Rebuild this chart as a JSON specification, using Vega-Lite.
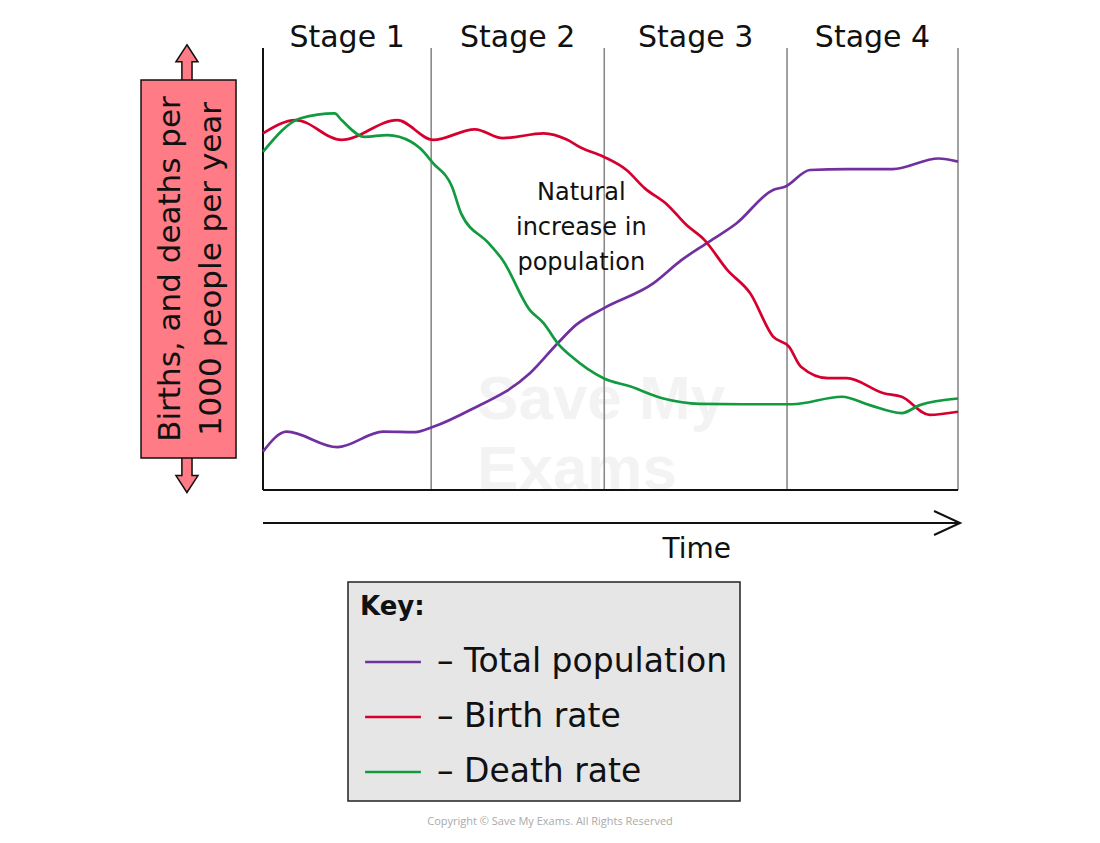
{
  "$schema": "https://vega.github.io/schema/vega-lite/v6.json",
  "width": 1100,
  "height": 843,
  "autosize": "none",
  "padding": 0,
  "background": "white",
  "data": {"values": [{}]},
  "config": {
    "view": {"stroke": null},
    "font": "DejaVu Sans",
    "legend": {
      "orient": "none",
      "legendX": 348,
      "legendY": 582,
      "direction": "vertical",
      "fillColor": "#e6e6e6",
      "strokeColor": "#222222",
      "strokeWidth": 1.5,
      "padding": 12,
      "titleFont": "DejaVu Sans",
      "titleFontSize": 26,
      "titleFontWeight": "bold",
      "titleColor": "#111111",
      "titlePadding": 25,
      "labelFont": "DejaVu Sans",
      "labelFontSize": 33,
      "labelColor": "#111111",
      "labelOffset": 27,
      "labelLimit": 500,
      "symbolType": "M-1.8,0L1.8,0",
      "symbolSize": 961,
      "symbolStrokeWidth": 2.6,
      "symbolOffset": 16,
      "rowPadding": 21
    }
  },
  "datasets": {
    "curves": [
      {"series": "Total population", "t": 0, "rate": 8.7},
      {"series": "Total population", "t": 3.4, "rate": 13.2},
      {"series": "Total population", "t": 10.7, "rate": 9.7},
      {"series": "Total population", "t": 17.3, "rate": 13.2},
      {"series": "Total population", "t": 21.9, "rate": 13.1},
      {"series": "Total population", "t": 24.5, "rate": 14.3},
      {"series": "Total population", "t": 29.8, "rate": 18.1},
      {"series": "Total population", "t": 38.4, "rate": 26.4},
      {"series": "Total population", "t": 42.4, "rate": 33.2},
      {"series": "Total population", "t": 45.0, "rate": 37.3},
      {"series": "Total population", "t": 49.0, "rate": 41.1},
      {"series": "Total population", "t": 56.2, "rate": 46.8},
      {"series": "Total population", "t": 60.2, "rate": 52.0},
      {"series": "Total population", "t": 64.2, "rate": 56.2},
      {"series": "Total population", "t": 68.1, "rate": 60.3},
      {"series": "Total population", "t": 73.4, "rate": 67.9},
      {"series": "Total population", "t": 75.1, "rate": 68.6},
      {"series": "Total population", "t": 78.7, "rate": 72.4},
      {"series": "Total population", "t": 84.0, "rate": 72.6},
      {"series": "Total population", "t": 90.6, "rate": 72.6},
      {"series": "Total population", "t": 97.2, "rate": 75.0},
      {"series": "Total population", "t": 100, "rate": 74.3},
      {"series": "Birth rate", "t": 0, "rate": 80.7},
      {"series": "Birth rate", "t": 4.7, "rate": 83.7},
      {"series": "Birth rate", "t": 11.3, "rate": 79.2},
      {"series": "Birth rate", "t": 19.3, "rate": 83.7},
      {"series": "Birth rate", "t": 24.5, "rate": 79.2},
      {"series": "Birth rate", "t": 30.5, "rate": 81.6},
      {"series": "Birth rate", "t": 34.5, "rate": 79.6},
      {"series": "Birth rate", "t": 40.4, "rate": 80.7},
      {"series": "Birth rate", "t": 43.7, "rate": 79.3},
      {"series": "Birth rate", "t": 45.7, "rate": 77.5},
      {"series": "Birth rate", "t": 49.0, "rate": 75.4},
      {"series": "Birth rate", "t": 52.3, "rate": 72.4},
      {"series": "Birth rate", "t": 54.9, "rate": 68.3},
      {"series": "Birth rate", "t": 58.2, "rate": 64.5},
      {"series": "Birth rate", "t": 60.9, "rate": 60.0},
      {"series": "Birth rate", "t": 63.5, "rate": 56.6},
      {"series": "Birth rate", "t": 66.8, "rate": 49.8},
      {"series": "Birth rate", "t": 70.1, "rate": 44.5},
      {"series": "Birth rate", "t": 73.4, "rate": 34.7},
      {"series": "Birth rate", "t": 75.7, "rate": 32.4},
      {"series": "Birth rate", "t": 77.4, "rate": 27.9},
      {"series": "Birth rate", "t": 81.3, "rate": 25.3},
      {"series": "Birth rate", "t": 84.0, "rate": 25.3},
      {"series": "Birth rate", "t": 89.3, "rate": 21.9},
      {"series": "Birth rate", "t": 91.9, "rate": 21.1},
      {"series": "Birth rate", "t": 95.9, "rate": 17.0},
      {"series": "Birth rate", "t": 100, "rate": 17.7},
      {"series": "Death rate", "t": 0, "rate": 76.5},
      {"series": "Death rate", "t": 5.4, "rate": 84.1},
      {"series": "Death rate", "t": 10.3, "rate": 85.2},
      {"series": "Death rate", "t": 11.3, "rate": 83.7},
      {"series": "Death rate", "t": 14.6, "rate": 79.9},
      {"series": "Death rate", "t": 17.9, "rate": 80.3},
      {"series": "Death rate", "t": 21.3, "rate": 78.8},
      {"series": "Death rate", "t": 22.6, "rate": 77.3},
      {"series": "Death rate", "t": 24.5, "rate": 73.9},
      {"series": "Death rate", "t": 27.2, "rate": 68.6},
      {"series": "Death rate", "t": 28.5, "rate": 62.6},
      {"series": "Death rate", "t": 32.5, "rate": 55.8},
      {"series": "Death rate", "t": 34.5, "rate": 52.0},
      {"series": "Death rate", "t": 38.4, "rate": 40.7},
      {"series": "Death rate", "t": 40.4, "rate": 37.7},
      {"series": "Death rate", "t": 42.4, "rate": 33.2},
      {"series": "Death rate", "t": 44.4, "rate": 30.2},
      {"series": "Death rate", "t": 49.0, "rate": 25.3},
      {"series": "Death rate", "t": 52.9, "rate": 23.4},
      {"series": "Death rate", "t": 57.6, "rate": 20.7},
      {"series": "Death rate", "t": 62.8, "rate": 19.5},
      {"series": "Death rate", "t": 70.8, "rate": 19.4},
      {"series": "Death rate", "t": 76.1, "rate": 19.4},
      {"series": "Death rate", "t": 83.3, "rate": 21.1},
      {"series": "Death rate", "t": 87.3, "rate": 19.2},
      {"series": "Death rate", "t": 91.9, "rate": 17.4},
      {"series": "Death rate", "t": 94.5, "rate": 19.2},
      {"series": "Death rate", "t": 100, "rate": 20.7}
    ],
    "stages": [
      {"stage": "Stage 1", "start": 0, "end": 24.2},
      {"stage": "Stage 2", "start": 24.2, "end": 49.1},
      {"stage": "Stage 3", "start": 49.1, "end": 75.4},
      {"stage": "Stage 4", "start": 75.4, "end": 100}
    ]
  },
  "layer": [
    {
      "mark": {"type": "text", "text": ["Save My", "Exams"], "font": "Liberation Sans", "fontWeight": "bold", "fontSize": 62, "lineHeight": 70, "align": "left", "baseline": "alphabetic", "color": "#f3f3f3"},
      "encoding": {
        "x": {"datum": 30.8, "type": "quantitative", "scale": {"domain": [-37.84, 120.43], "nice": false, "zero": false}, "axis": null},
        "y": {"datum": 16.0, "type": "quantitative", "scale": {"domain": [-79.86, 110.86], "nice": false, "zero": false}, "axis": null}
      }
    },
    {
      "data": {"name": "stages"},
      "mark": {"type": "rule", "color": "#8a8a8a", "strokeWidth": 1.6},
      "encoding": {
        "x": {"field": "end", "type": "quantitative", "scale": {"domain": [-37.84, 120.43], "nice": false, "zero": false}, "axis": null},
        "y": {"datum": 0, "type": "quantitative", "scale": {"domain": [-79.86, 110.86], "nice": false, "zero": false}, "axis": null},
        "y2": {"datum": 100}
      }
    },
    {
      "data": {"name": "stages"},
      "transform": [{"calculate": "(datum.start + datum.end) / 2", "as": "mid"}],
      "mark": {"type": "text", "fontSize": 30, "align": "center", "baseline": "middle", "color": "#111111"},
      "encoding": {
        "x": {"field": "mid", "type": "quantitative", "scale": {"domain": [-37.84, 120.43], "nice": false, "zero": false}, "axis": null},
        "y": {"datum": 102.3, "type": "quantitative", "scale": {"domain": [-79.86, 110.86], "nice": false, "zero": false}, "axis": null},
        "text": {"field": "stage"}
      }
    },
    {
      "mark": {"type": "rule", "color": "#111111", "strokeWidth": 2},
      "encoding": {
        "x": {"datum": 0, "type": "quantitative", "scale": {"domain": [-37.84, 120.43], "nice": false, "zero": false}, "axis": null},
        "y": {"datum": 0, "type": "quantitative", "scale": {"domain": [-79.86, 110.86], "nice": false, "zero": false}, "axis": null},
        "y2": {"datum": 100}
      }
    },
    {
      "mark": {"type": "rule", "color": "#111111", "strokeWidth": 2},
      "encoding": {
        "x": {"datum": 0, "type": "quantitative", "scale": {"domain": [-37.84, 120.43], "nice": false, "zero": false}, "axis": null},
        "x2": {"datum": 100},
        "y": {"datum": 0, "type": "quantitative", "scale": {"domain": [-79.86, 110.86], "nice": false, "zero": false}, "axis": null}
      }
    },
    {
      "mark": {"type": "rule", "color": "#111111", "strokeWidth": 2},
      "encoding": {
        "x": {"datum": 0, "type": "quantitative", "scale": {"domain": [-37.84, 120.43], "nice": false, "zero": false}, "axis": null},
        "x2": {"datum": 100.2},
        "y": {"datum": -7.47, "type": "quantitative", "scale": {"domain": [-79.86, 110.86], "nice": false, "zero": false}, "axis": null}
      }
    },
    {
      "mark": {"type": "point", "shape": "M-2.17,-1L0,0L-2.17,1", "filled": false, "size": 576, "stroke": "#111111", "strokeWidth": 2, "opacity": 1},
      "encoding": {
        "x": {"datum": 100.3, "type": "quantitative", "scale": {"domain": [-37.84, 120.43], "nice": false, "zero": false}, "axis": null},
        "y": {"datum": -7.47, "type": "quantitative", "scale": {"domain": [-79.86, 110.86], "nice": false, "zero": false}, "axis": null}
      }
    },
    {
      "mark": {"type": "text", "text": "Time", "fontSize": 28, "align": "center", "baseline": "middle", "color": "#111111"},
      "encoding": {
        "x": {"datum": 62.4, "type": "quantitative", "scale": {"domain": [-37.84, 120.43], "nice": false, "zero": false}, "axis": null},
        "y": {"datum": -13.6, "type": "quantitative", "scale": {"domain": [-79.86, 110.86], "nice": false, "zero": false}, "axis": null}
      }
    },
    {
      "data": {"name": "curves"},
      "mark": {"type": "line", "interpolate": "monotone", "strokeWidth": 2.7},
      "encoding": {
        "x": {"field": "t", "type": "quantitative", "scale": {"domain": [-37.84, 120.43], "nice": false, "zero": false}, "axis": null},
        "y": {"field": "rate", "type": "quantitative", "scale": {"domain": [-79.86, 110.86], "nice": false, "zero": false}, "axis": null},
        "color": {
          "field": "series",
          "type": "nominal",
          "scale": {"domain": ["Total population", "Birth rate", "Death rate"], "range": ["#7030a0", "#d6002f", "#129a40"]},
          "legend": {"title": "Key:", "labelExpr": "'– ' + datum.label"}
        }
      }
    },
    {
      "mark": {"type": "text", "text": ["Natural", "increase in", "population"], "fontSize": 24, "lineHeight": 35, "align": "center", "baseline": "middle", "color": "#111111"},
      "encoding": {
        "x": {"datum": 45.8, "type": "quantitative", "scale": {"domain": [-37.84, 120.43], "nice": false, "zero": false}, "axis": null},
        "y": {"datum": 67.2, "type": "quantitative", "scale": {"domain": [-79.86, 110.86], "nice": false, "zero": false}, "axis": null}
      }
    },
    {
      "mark": {"type": "point", "shape": "M0,-1L0.63,-0.03L0.29,-0.03L0.29,1.1L-0.29,1.1L-0.29,-0.03L-0.63,-0.03Z", "filled": true, "size": 1225, "fill": "#ff7b85", "stroke": "#111111", "strokeWidth": 1.5, "opacity": 1},
      "encoding": {
        "x": {"datum": -10.94, "type": "quantitative", "scale": {"domain": [-37.84, 120.43], "nice": false, "zero": false}, "axis": null},
        "y": {"datum": 96.77, "type": "quantitative", "scale": {"domain": [-79.86, 110.86], "nice": false, "zero": false}, "axis": null}
      }
    },
    {
      "mark": {"type": "point", "shape": "M0,1L0.63,0.03L0.29,0.03L0.29,-1.1L-0.29,-1.1L-0.29,0.03L-0.63,0.03Z", "filled": true, "size": 1225, "fill": "#ff7b85", "stroke": "#111111", "strokeWidth": 1.5, "opacity": 1},
      "encoding": {
        "x": {"datum": -10.94, "type": "quantitative", "scale": {"domain": [-37.84, 120.43], "nice": false, "zero": false}, "axis": null},
        "y": {"datum": 3.39, "type": "quantitative", "scale": {"domain": [-79.86, 110.86], "nice": false, "zero": false}, "axis": null}
      }
    },
    {
      "mark": {"type": "rect", "fill": "#ff7b85", "stroke": "#111111", "strokeWidth": 1.5},
      "encoding": {
        "x": {"datum": -17.55, "type": "quantitative", "scale": {"domain": [-37.84, 120.43], "nice": false, "zero": false}, "axis": null},
        "x2": {"datum": -3.88},
        "y": {"datum": 92.76, "type": "quantitative", "scale": {"domain": [-79.86, 110.86], "nice": false, "zero": false}, "axis": null},
        "y2": {"datum": 7.24}
      }
    },
    {
      "mark": {"type": "text", "text": ["Births, and deaths per", "1000 people per year"], "angle": 270, "fontSize": 31, "lineHeight": 41, "align": "center", "baseline": "middle", "color": "#111111"},
      "encoding": {
        "x": {"datum": -13.3, "type": "quantitative", "scale": {"domain": [-37.84, 120.43], "nice": false, "zero": false}, "axis": null},
        "y": {"datum": 50, "type": "quantitative", "scale": {"domain": [-79.86, 110.86], "nice": false, "zero": false}, "axis": null}
      }
    },
    {
      "mark": {"type": "text", "text": "Copyright © Save My Exams. All Rights Reserved", "font": "Open Sans", "fontSize": 11, "align": "center", "baseline": "middle", "color": "#aaaaaa"},
      "encoding": {
        "x": {"datum": 41.3, "type": "quantitative", "scale": {"domain": [-37.84, 120.43], "nice": false, "zero": false}, "axis": null},
        "y": {"datum": -75.1, "type": "quantitative", "scale": {"domain": [-79.86, 110.86], "nice": false, "zero": false}, "axis": null}
      }
    }
  ]
}
